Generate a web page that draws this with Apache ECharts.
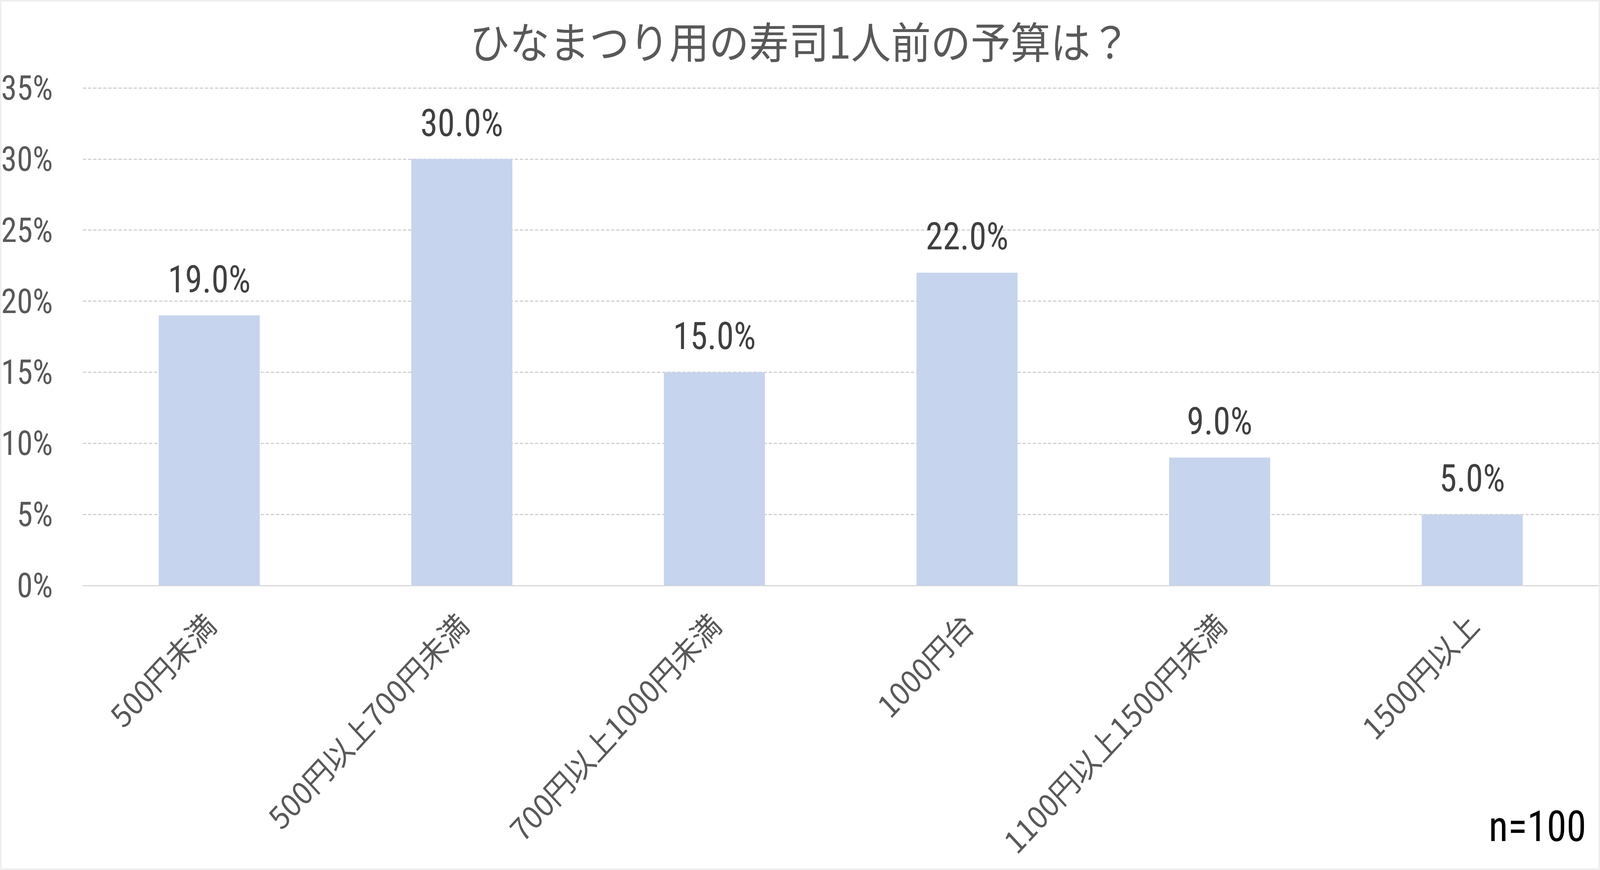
<!DOCTYPE html>
<html>
<head>
<meta charset="utf-8">
<script src="https://cdn.jsdelivr.net/npm/echarts@6/dist/echarts.min.js"></script>
<style>
  html, body { margin: 0; padding: 0; background: #fff; overflow: hidden; }
  #main { width: 4410px; height: 2226px; transform-origin: 0 0; }
</style>
</head>
<body>
<div id="main"></div>
<script>
// データ
var categories = ['500円未満', '500円以上700円未満', '700円以上1000円未満', '1000円台', '1100円以上1500円未満', '1500円以上'];
var values = [19, 30, 15, 22, 9, 5];
var yTicks = { min: 0, max: 35, interval: 5 };
var titleText = 'ひなまつり用の寿司1人前の予算は？';
var noteText = 'n=100';

var numFont = '"Roboto Condensed", "Noto Sans CJK JP", sans-serif';
var jpFont = '"Noto Sans CJK JP", sans-serif';

// the browser window can be narrower than 4410px: squeeze the page to fit
var dom = document.getElementById('main');
var sx = Math.min(1, window.innerWidth / 4410);
var sy = Math.min(1, window.innerHeight / 2226);
dom.style.transform = 'scale(' + sx + ',' + sy + ')';

var myChart = echarts.init(dom, null, { renderer: 'svg' });
var option = {
  backgroundColor: '#ffffff',
  animation: false,
  title: {
    text: titleText,
    left: 'center',
    top: 42,
    textStyle: { fontFamily: jpFont, fontSize: 110, fontWeight: 'normal', color: '#595959' }
  },
  grid: { left: 227, right: 4, top: 225, bottom: 728 },
  xAxis: {
    type: 'category',
    data: categories,
    axisTick: { show: false },
    axisLine: { lineStyle: { color: '#d9d9d9', width: 3 } },
    axisLabel: {
      interval: 0,
      rotate: 45,
      margin: 84,
      fontFamily: jpFont,
      fontSize: 79,
      color: '#595959'
    }
  },
  yAxis: {
    type: 'value',
    min: yTicks.min,
    max: yTicks.max,
    interval: yTicks.interval,
    axisLine: { show: false },
    axisTick: { show: false },
    axisLabel: {
      formatter: '{value}%',
      margin: 83,
      fontFamily: numFont,
      fontSize: 88,
      color: '#595959'
    },
    splitLine: { lineStyle: { color: '#d0d0d0', width: 3, type: [9, 5] } }
  },
  series: [{
    type: 'bar',
    data: values,
    barCategoryGap: '60%',
    itemStyle: { color: '#c6d4ed' },
    label: {
      show: true,
      position: 'top',
      distance: 44,
      fontFamily: numFont,
      fontSize: 96,
      color: '#404040',
      formatter: function (p) { return p.value.toFixed(1) + '%'; }
    }
  }],
  graphic: [
    {
      type: 'rect',
      z: -1,
      shape: { x: 2, y: 2, width: 4406, height: 2222 },
      style: { fill: 'none', stroke: '#eeeeee', lineWidth: 4 }
    },
    {
      type: 'text',
      x: 4372,
      y: 2170,
      style: {
        text: noteText,
        font: '110px ' + numFont,
        fill: '#000000',
        align: 'right',
        verticalAlign: 'bottom'
      }
    }
  ]
};
myChart.setOption(option);
</script>
</body>
</html>
